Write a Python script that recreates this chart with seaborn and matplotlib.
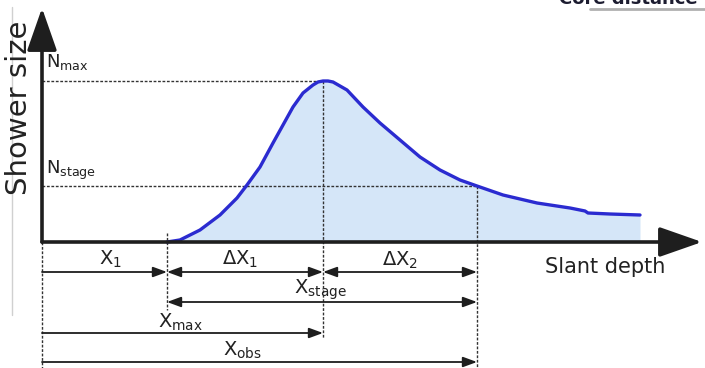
import matplotlib
matplotlib.use("Agg")
import matplotlib.pyplot as plt
import seaborn as sns
import pandas as pd

# Shower profile (slant depth, shower size), arbitrary units
depth = [125, 138, 158, 178, 195, 205, 218, 231, 241, 251, 261, 271, 276, 281,
         286, 291, 305, 321, 338, 358, 378, 398, 418, 435, 461, 495, 528, 543,
         546, 568, 598]
size = [0, 2, 12, 27, 44, 57, 75, 99, 117, 135, 149, 157, 160, 161,
        161, 160, 152, 135, 119, 102, 85, 72, 62, 56, 47, 39, 34, 31,
        29, 28, 27]

# Characteristic depths and sizes
x_first = 125
x_max = 281
x_obs = 435
n_max = 161
n_stage = 56
x_axis_end = 660
y_axis_end = 234

sns.set_theme(style="white")
plt.rcParams['font.family'] = ['DejaVu Sans']

fig = plt.figure(figsize=(7.05, 3.68), dpi=100)
ax = fig.add_axes([0, 0, 1, 1])
ax.set_xlim(-42, 663)
ax.set_ylim(-126, 242)
ax.axis('off')

df = pd.DataFrame({'depth': depth, 'size': size})
ax.fill_between(df['depth'], df['size'], 0, color='#d5e6f8', zorder=1, lw=0)
sns.lineplot(data=df, x='depth', y='size', color='#2b2bd0', lw=2.4, ax=ax,
             zorder=3, sort=False)

axis_col = '#1e1e1e'
# main axes with big arrowheads
ax.annotate('', xy=(x_axis_end, 0), xytext=(0, 0),
            arrowprops=dict(arrowstyle='-|>,head_length=1.2,head_width=0.42',
                            mutation_scale=22, lw=2.6, color=axis_col,
                            shrinkA=0, shrinkB=0), zorder=4)
ax.annotate('', xy=(0, y_axis_end), xytext=(0, 0),
            arrowprops=dict(arrowstyle='-|>,head_length=1.2,head_width=0.42',
                            mutation_scale=22, lw=2.6, color=axis_col,
                            shrinkA=0, shrinkB=0), zorder=4)

dash = (0, (2.0, 1.2))
dcol = '#333333'
ax.plot([0, x_max], [n_max, n_max], ls=dash, color=dcol, lw=1.0, zorder=2)
ax.plot([0, x_obs], [n_stage, n_stage], ls=dash, color=dcol, lw=1.0, zorder=2)
ax.plot([0, 0], [0, -126], ls=dash, color=dcol, lw=1.0, zorder=2)
ax.plot([x_first, x_first], [9, -68], ls=dash, color=dcol, lw=1.0, zorder=2)
ax.plot([x_max, x_max], [n_max, -96], ls=dash, color=dcol, lw=1.0, zorder=2)
ax.plot([x_obs, x_obs], [n_stage, -126], ls=dash, color=dcol, lw=1.0, zorder=2)

def arrow(x0, x1, y, style):
    ax.annotate('', xy=(x1, y), xytext=(x0, y),
                arrowprops=dict(arrowstyle=style + ',head_length=0.6,head_width=0.22',
                                mutation_scale=14, lw=1.3, color=axis_col,
                                shrinkA=0, shrinkB=0), zorder=4)

arrow(0, x_first, -30, '-|>')
arrow(x_first, x_max, -30, '<|-|>')
arrow(x_max, x_obs, -30, '<|-|>')
arrow(x_first, x_obs, -60, '<|-|>')
arrow(0, x_max, -91, '-|>')
arrow(0, x_obs, -120, '-|>')

tcol = '#222222'
fs = 14
ax.text(68, -17, r'$\mathregular{X_1}$', ha='center', va='center', fontsize=fs, color=tcol)
ax.text(198, -17, r'$\mathregular{\Delta X_1}$', ha='center', va='center', fontsize=fs, color=tcol)
ax.text(358, -18, r'$\mathregular{\Delta X_2}$', ha='center', va='center', fontsize=fs, color=tcol)
ax.text(278, -48, r'$\mathregular{X_{stage}}$', ha='center', va='center', fontsize=fs, color=tcol)
ax.text(138, -80, r'$\mathregular{X_{max}}$', ha='center', va='center', fontsize=fs, color=tcol)
ax.text(200, -108, r'$\mathregular{X_{obs}}$', ha='center', va='center', fontsize=fs, color=tcol)
ax.text(4, 180, r'$\mathregular{N_{max}}$', ha='left', va='center', fontsize=13, color=tcol)
ax.text(4, 72, r'$\mathregular{N_{stage}}$', ha='left', va='center', fontsize=13, color=tcol)
ax.text(503, -25, 'Slant depth', ha='left', va='center', fontsize=15, color=tcol)
ax.text(-23, 134, 'Shower size', ha='center', va='center', rotation=90,
        fontsize=21, color=tcol)

# faint vertical guide on the far left
ax.plot([-30, -30], [235, -73], color='#d0d0d0', lw=1.0, zorder=0)

# clipped title at top right
ax.text(656, 238, 'Core distance', ha='right', va='baseline', fontsize=13,
        fontweight='bold', color='#1c1c30')
ax.plot([548, 663], [233, 233], color='#b0b0b0', lw=2.0, zorder=0)

fig.savefig('out.png', dpi=100)
